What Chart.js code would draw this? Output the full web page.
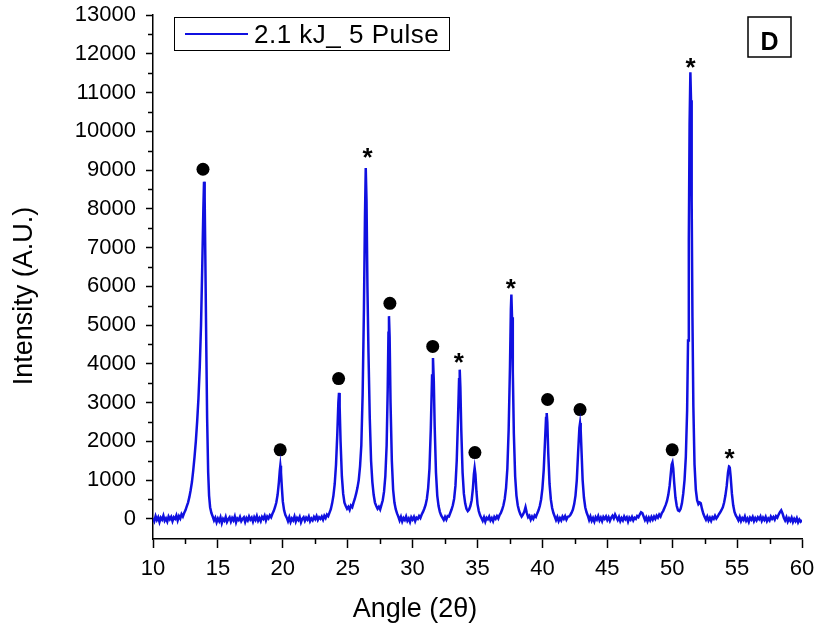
<!DOCTYPE html>
<html>
<head>
<meta charset="utf-8">
<script src="https://cdn.jsdelivr.net/npm/chart.js@4.4.1/dist/chart.umd.min.js"></script>
<style>
  body { margin: 0; background: #fff; }
  canvas { display: block; }
</style>
</head>
<body>
<canvas id="chart" width="815" height="629"></canvas>
<script>
'use strict';

// XRD scan: [angle (2theta), intensity]
let scan = [
  [10.0, 20], [10.1, -60], [10.2, 70], [10.3, -30], [10.4, 40], [10.5, -80], [10.6, 30], [10.7, -20],
  [10.8, 80], [10.9, -50], [11.0, 10], [11.1, -70], [11.2, 60], [11.3, -10], [11.4, 50], [11.5, -60],
  [11.6, 40], [11.7, 0], [11.8, 90], [11.9, -40], [12.0, 70], [12.1, 10], [12.2, 120], [12.3, 60],
  [12.4, 150], [12.5, 220], [12.6, 320], [12.7, 420], [12.8, 560], [12.9, 740], [13.0, 950], [13.1, 1250],
  [13.2, 1600], [13.3, 2000], [13.4, 2500], [13.5, 3100], [13.6, 3900], [13.7, 5000], [13.8, 6600],
  [13.88, 8000], [13.93, 8700], [13.98, 8300], [14.03, 6800], [14.1, 4600], [14.17, 2600], [14.25, 1200],
  [14.32, 600], [14.4, 300], [14.5, 150], [14.6, 60],
  [14.7, -40], [14.8, 30], [14.9, -90], [15.0, 10], [15.1, -60], [15.2, 40], [15.3, -110], [15.4, 0],
  [15.5, -50], [15.6, 50], [15.7, -80], [15.8, -10], [15.9, 40], [16.0, -70], [16.1, 20], [16.2, -40],
  [16.3, 60], [16.4, -90], [16.5, 10], [16.6, -30], [16.7, 50], [16.8, -60], [16.9, 0], [17.0, 40],
  [17.1, -80], [17.2, 20], [17.3, -40], [17.4, 60], [17.5, -20], [17.6, 30], [17.7, -70], [17.8, 40],
  [17.9, -30], [18.0, 70], [18.1, -50], [18.2, 20], [18.3, -60], [18.4, 50], [18.5, 0], [18.6, 80],
  [18.7, -40], [18.8, 60], [18.9, 10], [19.0, 90], [19.1, 40], [19.2, 130], [19.3, 200], [19.4, 300],
  [19.5, 420], [19.6, 620], [19.7, 950], [19.77, 1250], [19.81, 1370], [19.86, 1200], [19.93, 800],
  [20.0, 450], [20.1, 220], [20.2, 100], [20.3, 30],
  [20.4, -60], [20.5, 40], [20.6, -80], [20.7, 10], [20.8, -40], [20.9, 60], [21.0, -70], [21.1, 20],
  [21.2, -30], [21.3, 50], [21.4, -90], [21.5, 0], [21.6, 40], [21.7, -50], [21.8, 30], [21.9, -20],
  [22.0, 60], [22.1, -60], [22.2, 10], [22.3, -40], [22.4, 50], [22.5, -10], [22.6, 70], [22.7, -30],
  [22.8, 40], [22.9, 0], [23.0, 60], [23.1, -20], [23.2, 80], [23.3, 20], [23.4, 110], [23.5, 70],
  [23.6, 160], [23.7, 250], [23.8, 400], [23.9, 600], [24.0, 900], [24.1, 1400], [24.2, 2200],
  [24.28, 3000], [24.33, 3250], [24.38, 2900], [24.45, 2000], [24.55, 1100], [24.65, 650], [24.75, 420],
  [24.85, 330], [24.95, 260], [25.05, 310], [25.15, 230], [25.25, 340], [25.35, 300], [25.45, 420],
  [25.55, 520], [25.65, 650], [25.75, 800], [25.85, 1000], [25.95, 1350], [26.05, 1900], [26.15, 3200],
  [26.25, 5400], [26.33, 7800], [26.39, 9050], [26.45, 8200], [26.52, 6000], [26.6, 4300], [26.7, 2600],
  [26.8, 1500], [26.9, 950], [27.0, 620], [27.1, 420], [27.2, 330], [27.3, 260], [27.4, 310], [27.5, 240],
  [27.6, 360], [27.7, 480], [27.8, 700], [27.9, 1100], [28.0, 1900], [28.08, 3300], [28.14, 4800],
  [28.18, 5230], [28.23, 4700], [28.3, 3000], [28.4, 1500], [28.5, 750], [28.6, 420], [28.7, 250],
  [28.8, 140], [28.9, 60],
  [29.0, -40], [29.1, 50], [29.2, -70], [29.3, 20], [29.4, -30], [29.5, 60], [29.6, -50], [29.7, 10],
  [29.8, -80], [29.9, 40], [30.0, -20], [30.1, 50], [30.2, -60], [30.3, 30], [30.4, 0], [30.5, 70],
  [30.6, 20], [30.7, 110], [30.8, 180], [30.9, 260], [31.0, 360], [31.1, 520], [31.2, 800], [31.3, 1300],
  [31.4, 2300], [31.5, 3700], [31.57, 4150], [31.63, 3600], [31.7, 2400], [31.8, 1200], [31.9, 600],
  [32.0, 330], [32.1, 180], [32.2, 90], [32.3, 30], [32.4, -30], [32.5, 50], [32.6, -20], [32.7, 70],
  [32.8, 60], [32.9, 150], [33.0, 240], [33.1, 350], [33.2, 520], [33.3, 850], [33.4, 1500], [33.5, 2600],
  [33.58, 3600], [33.63, 3850], [33.68, 3400], [33.75, 2300], [33.85, 1200], [33.95, 650], [34.05, 400],
  [34.15, 260], [34.25, 200], [34.35, 240], [34.45, 330], [34.55, 480], [34.65, 800], [34.72, 1150],
  [34.78, 1310], [34.84, 1150], [34.92, 700], [35.0, 380], [35.1, 200], [35.2, 90], [35.3, 20],
  [35.4, -50], [35.5, 40], [35.6, -70], [35.7, 30], [35.8, -10], [35.9, 60], [36.0, -40], [36.1, 20],
  [36.2, -60], [36.3, 50], [36.4, 0], [36.5, 70], [36.6, 10], [36.7, 100], [36.8, 150], [36.9, 240],
  [37.0, 350], [37.1, 520], [37.2, 800], [37.3, 1300], [37.4, 2300], [37.5, 3900], [37.57, 5400],
  [37.61, 5790], [37.66, 5200], [37.72, 3800], [37.8, 2200], [37.9, 1100], [38.0, 600], [38.1, 350],
  [38.2, 210], [38.3, 120], [38.4, 60], [38.5, 110], [38.6, 180], [38.7, 300], [38.8, 150], [38.9, 40],
  [39.0, 80], [39.1, -20], [39.2, 60], [39.3, 0], [39.4, 90], [39.5, 50], [39.6, 140], [39.7, 220],
  [39.8, 330], [39.9, 500], [40.0, 780], [40.1, 1250], [40.2, 2000], [40.28, 2600], [40.33, 2730],
  [40.38, 2500], [40.45, 1700], [40.55, 900], [40.65, 500], [40.75, 280], [40.85, 150], [40.95, 60],
  [41.05, -30], [41.15, 50], [41.25, -60], [41.35, 20], [41.45, -40], [41.55, 60], [41.65, 0], [41.75, 70],
  [41.85, -20], [41.95, 50], [42.05, 60], [42.15, 100], [42.25, 160], [42.35, 240], [42.45, 380],
  [42.55, 600], [42.65, 1000], [42.75, 1700], [42.85, 2350], [42.9, 2470], [42.95, 2300], [43.02, 1700],
  [43.1, 1000], [43.2, 550], [43.3, 300], [43.4, 170], [43.5, 80],
  [43.6, -30], [43.7, 60], [43.8, -50], [43.9, 20], [44.0, -70], [44.1, 40], [44.2, -20], [44.3, 70],
  [44.4, -40], [44.5, 30], [44.6, -60], [44.7, 50], [44.8, 0], [44.9, 60], [45.0, -30], [45.1, 40],
  [45.2, -50], [45.3, 30], [45.4, 80], [45.5, 10], [45.6, 110], [45.7, 40], [45.8, -30], [45.9, 50],
  [46.0, -60], [46.1, 20], [46.2, -40], [46.3, 60], [46.4, -10], [46.5, 40], [46.6, -70], [46.7, 30],
  [46.8, -20], [46.9, 50], [47.0, -40], [47.1, 30], [47.2, 0], [47.3, 70], [47.4, 40], [47.5, 110],
  [47.6, 170], [47.7, 150], [47.8, 60], [47.9, -30], [48.0, 40], [48.1, -60], [48.2, 30], [48.3, -40],
  [48.4, 50], [48.5, -20], [48.6, 60], [48.7, 0], [48.8, 80], [48.9, 30], [49.0, 110], [49.1, 60],
  [49.2, 150], [49.3, 200], [49.4, 280], [49.5, 360], [49.6, 460], [49.7, 620], [49.8, 850], [49.9, 1200],
  [49.96, 1400], [50.02, 1455], [50.08, 1300], [50.15, 950], [50.25, 550], [50.35, 330], [50.45, 220],
  [50.55, 200], [50.65, 260], [50.75, 400], [50.85, 650], [50.95, 1000], [51.05, 1600], [51.15, 2800],
  [51.22, 4600], [51.28, 7200], [51.34, 10200], [51.4, 11520], [51.45, 10800], [51.5, 8200], [51.56, 5200],
  [51.63, 2900], [51.72, 1400], [51.82, 750], [51.92, 480], [52.02, 380], [52.12, 420], [52.2, 400],
  [52.3, 250], [52.4, 130], [52.5, 50],
  [52.6, -20], [52.7, 60], [52.8, -40], [52.9, 30], [53.0, -50], [53.1, 40], [53.2, 0], [53.3, 80],
  [53.4, 10], [53.5, 60], [53.6, 120], [53.7, 170], [53.8, 230], [53.9, 300], [54.0, 420], [54.1, 600],
  [54.2, 850], [54.3, 1200], [54.38, 1350], [54.43, 1340], [54.5, 1100], [54.6, 650], [54.7, 350],
  [54.8, 180], [54.9, 90], [55.0, 30],
  [55.1, -40], [55.2, 50], [55.3, -60], [55.4, 20], [55.5, -30], [55.6, 60], [55.7, -50], [55.8, 10],
  [55.9, -80], [56.0, 30], [56.1, -20], [56.2, 50], [56.3, -60], [56.4, 20], [56.5, -40], [56.6, 40],
  [56.7, -10], [56.8, 60], [56.9, -50], [57.0, 30], [57.1, -30], [57.2, 50], [57.3, -60], [57.4, 10],
  [57.5, -40], [57.6, 60], [57.7, 0], [57.8, 50], [57.9, -20], [58.0, 70], [58.1, 30], [58.2, 110],
  [58.3, 170], [58.4, 220], [58.5, 140], [58.6, 30], [58.7, -40], [58.8, 40], [58.9, -70], [59.0, 10],
  [59.1, -50], [59.2, 30], [59.3, -80], [59.4, 0], [59.5, -60], [59.6, 20], [59.7, -90], [59.8, -20],
  [59.9, -70], [60.0, -30]
];

// peak markers
let circleMarks = [
  [13.85, 9020], [19.8, 1780], [24.3, 3620], [28.25, 5560], [31.55, 4450],
  [34.8, 1710], [40.4, 3080], [42.9, 2820], [50.0, 1780]
];
let starMarks = [
  [26.53, 9480], [33.56, 4190], [37.56, 6120], [51.42, 11810], [54.42, 1730]
];

let xTickValues = [10, 15, 20, 25, 30, 35, 40, 45, 50, 55, 60];
let xMinorValues = [12.5, 17.5, 22.5, 27.5, 32.5, 37.5, 42.5, 47.5, 52.5, 57.5];
let yTickValues = [0, 1000, 2000, 3000, 4000, 5000, 6000, 7000, 8000, 9000, 10000, 11000, 12000, 13000];
let yMinorValues = [500, 1500, 2500, 3500, 4500, 5500, 6500, 7500, 8500, 9500, 10500, 11500, 12500];

let seriesLabel = '2.1 kJ_ 5 Pulse';
let panelLetter = 'D';
let xTitle = 'Angle (2θ)';
let yTitle = 'Intensity (A.U.)';

const FONT = "'Liberation Sans', Arial, sans-serif";
const LINE_COLOR = '#1010e0';

function toPoints(list) {
  return list.map(function (p) { return { x: p[0], y: p[1] }; });
}

// short minor ticks on both axes
let minorTicks = {
  id: 'minorTicks',
  afterDraw: function (chart) {
    let ctx = chart.ctx;
    let xs = chart.scales.x;
    let ys = chart.scales.y;
    ctx.save();
    ctx.strokeStyle = '#000';
    ctx.lineWidth = 1.5;
    ctx.beginPath();
    xMinorValues.forEach(function (v) {
      let px = Math.round(xs.getPixelForValue(v)) + 0.5;
      ctx.moveTo(px, xs.top);
      ctx.lineTo(px, xs.top + 5);
    });
    yMinorValues.forEach(function (v) {
      let py = Math.round(ys.getPixelForValue(v)) + 0.5;
      ctx.moveTo(ys.right, py);
      ctx.lineTo(ys.right - 5, py);
    });
    ctx.stroke();
    ctx.restore();
  }
};

// asterisks above some peaks
let starText = {
  id: 'starText',
  afterDatasetsDraw: function (chart) {
    let ctx = chart.ctx;
    let meta = chart.getDatasetMeta(2);
    ctx.save();
    ctx.fillStyle = '#000';
    ctx.font = 'bold 26px ' + FONT;
    ctx.textAlign = 'center';
    ctx.textBaseline = 'alphabetic';
    meta.data.forEach(function (pt) {
      ctx.fillText('*', pt.x, pt.y + 15);
    });
    ctx.restore();
  }
};

// axis titles, boxed legend and panel letter
let boxes = {
  id: 'boxes',
  afterDraw: function (chart) {
    let ctx = chart.ctx;
    let area = chart.chartArea;
    let ds = chart.data.datasets[0];
    ctx.save();
    ctx.fillStyle = '#000';
    ctx.font = '27px ' + FONT;
    ctx.textAlign = 'center';
    ctx.textBaseline = 'alphabetic';
    ctx.fillText(xTitle, 415, 617);
    ctx.save();
    ctx.translate(32, 296);
    ctx.rotate(-Math.PI / 2);
    ctx.fillText(yTitle, 0, 0);
    ctx.restore();

    ctx.strokeStyle = '#000';
    ctx.lineWidth = 1;
    let lx = area.left + 21, ly = area.top + 2;
    ctx.strokeRect(lx + 0.5, ly + 0.5, 275, 33);
    ctx.strokeStyle = ds.borderColor;
    ctx.lineWidth = 2;
    ctx.beginPath();
    ctx.moveTo(lx + 11, ly + 17);
    ctx.lineTo(lx + 74, ly + 17);
    ctx.stroke();
    ctx.font = '26px ' + FONT;
    ctx.letterSpacing = '0.5px';
    ctx.textAlign = 'left';
    ctx.fillText(ds.label, lx + 80, ly + 26);
    ctx.letterSpacing = '0px';

    let bx = area.right - 54, by = area.top + 2;
    ctx.strokeStyle = '#000';
    ctx.lineWidth = 1.5;
    ctx.strokeRect(bx, by, 43, 40);
    ctx.font = 'bold 25px ' + FONT;
    ctx.textAlign = 'center';
    ctx.fillText(panelLetter, bx + 21.5, by + 33);
    ctx.restore();
  }
};

let chartData = {
  type: 'line',
  data: {
    datasets: [{
      label: seriesLabel,
      data: toPoints(scan),
      borderColor: LINE_COLOR,
      borderWidth: 2.5,
      pointRadius: 0,
      tension: 0
    }, {
      label: 'circles',
      data: toPoints(circleMarks),
      showLine: false,
      pointRadius: 6.5,
      pointBackgroundColor: '#000',
      pointBorderWidth: 0
    }, {
      label: 'stars',
      data: toPoints(starMarks),
      showLine: false,
      pointRadius: 0
    }]
  },
  options: {
    responsive: false,
    animation: false,
    layout: {
      padding: { top: 15, right: 13, left: 0, bottom: 0 }
    },
    plugins: {
      legend: { display: false },
      tooltip: { enabled: false }
    },
    scales: {
      x: {
        type: 'linear',
        min: 10,
        max: 60,
        afterBuildTicks: function (scale) {
          scale.ticks = xTickValues.map(function (v) { return { value: v }; });
        },
        afterFit: function (scale) {
          scale.height = 90;
          scale.paddingLeft = 0;
          scale.paddingRight = 0;
        },
        ticks: {
          color: '#000',
          padding: 8,
          maxRotation: 0,
          font: { family: FONT, size: 22 },
          callback: function (v) { return String(v); }
        },
        grid: {
          drawOnChartArea: false,
          tickLength: 9,
          tickWidth: 1.5,
          tickColor: '#000'
        },
        border: { color: '#000', width: 1.5 }
      },
      y: {
        type: 'linear',
        min: -520,
        max: 13000,
        afterBuildTicks: function (scale) {
          scale.ticks = yTickValues.map(function (v) { return { value: v }; });
        },
        afterFit: function (scale) {
          scale.width = 153;
          scale.paddingTop = 0;
          scale.paddingBottom = 0;
        },
        ticks: {
          color: '#000',
          padding: 10,
          font: { family: FONT, size: 22 },
          callback: function (v) { return String(v); }
        },
        grid: {
          drawOnChartArea: false,
          tickLength: 7,
          tickWidth: 1.5,
          tickColor: '#000'
        },
        border: { color: '#000', width: 1.5 }
      }
    }
  },
  plugins: [minorTicks, starText, boxes]
};

let ctx = document.getElementById('chart');
new Chart(ctx, chartData);
</script>
</body>
</html>
